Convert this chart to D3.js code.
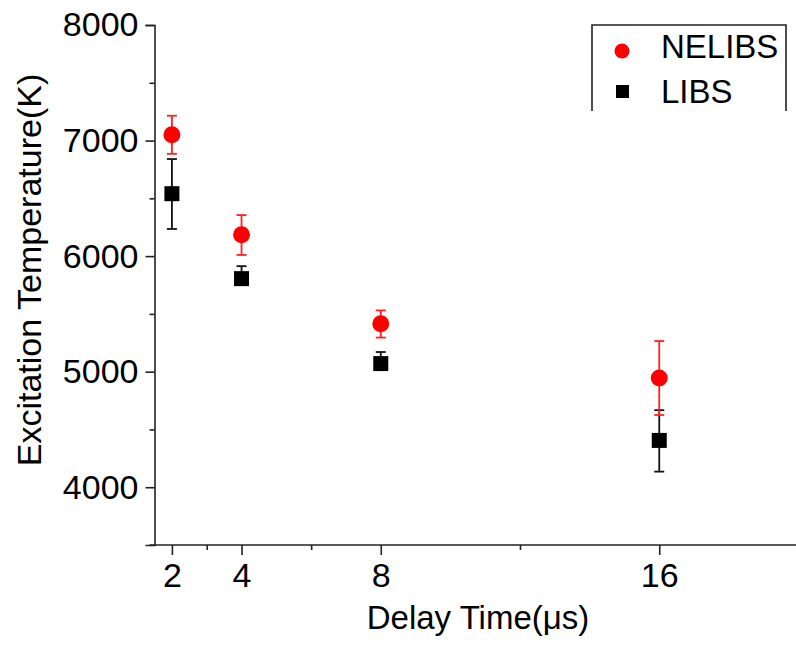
<!DOCTYPE html>
<html lang="en">
<head>
  <meta charset="UTF-8">
  <title>Excitation Temperature vs Delay Time</title>
  <script src="https://d3js.org/d3.v7.min.js"></script>
  <style>
    body { margin: 0; background: #fff; }
    svg { display: block; font-family: Arial, "Liberation Sans", sans-serif; }
  </style>
</head>
<body>
<svg id="chart" width="796" height="645"></svg>
<script>
  // Data
  const delays = [2, 4, 8, 16];
  const nelibs = [7050, 6185, 5415, 4945];
  const nelibsErrUp = [165, 170, 115, 320];
  const nelibsErrDown = [165, 175, 120, 320];
  const libs = [6540, 5805, 5070, 4405];
  const libsErrUp = [300, 108, 100, 262];
  const libsErrDown = [305, 50, 50, 270];

  const xMajor = [2, 4, 8, 16];
  const xMinor = [3, 6, 12];
  const yMajor = [4000, 5000, 6000, 7000, 8000];
  const yMinor = [4500, 5500, 6500, 7500];

  const svg = d3.select("#chart");
  const width = 796, height = 645;

  const x = d3.scaleLinear().domain([1.5, 20]).range([154.5, 798.5]);
  const y = d3.scaleLinear().domain([3500, 8000]).range([545, 25]);
  const x0 = x(1.5);

  const axisColor = "#222";

  // Y axis: major and minor ticks
  const yAxis = svg.append("g").attr("transform", `translate(${x0},0)`);
  yAxis.call(d3.axisLeft(y).tickValues(yMajor).tickSize(9).tickPadding(7).tickFormat(d3.format("d")));
  yAxis.append("g").call(d3.axisLeft(y).tickValues(yMinor).tickSize(5).tickFormat(""))
    .select(".domain").remove();

  // X axis
  const xAxis = svg.append("g").attr("transform", `translate(0,${y(3500)})`);
  xAxis.call(d3.axisBottom(x).tickValues(xMajor).tickSize(10).tickPadding(8).tickFormat(d3.format("d")));
  xAxis.append("g").call(d3.axisBottom(x).tickValues(xMinor).tickSize(5).tickFormat(""))
    .select(".domain").remove();
  xAxis.select(".domain").attr("d", `M${x0 - 5},0H${width}`);

  svg.selectAll(".domain, .tick line").attr("stroke", axisColor).attr("stroke-width", 1.6);
  svg.selectAll(".tick text").attr("font-size", 34).attr("fill", "#000")
    .attr("font-family", "Arial, 'Liberation Sans', sans-serif");

  // Axis titles
  svg.append("text")
    .attr("x", 478)
    .attr("y", 629)
    .attr("text-anchor", "middle")
    .attr("font-size", 33)
    .text("Delay Time(\u03bcs)");

  svg.append("text")
    .attr("transform", `translate(41,${y(5750) - 15}) rotate(-90)`)
    .attr("text-anchor", "middle")
    .attr("font-size", 34)
    .text("Excitation Temperature(K)");

  // Error bars
  function errorBars(vals, up, down, color) {
    const g = svg.append("g").attr("stroke", color).attr("stroke-width", 1.8);
    delays.forEach((d, i) => {
      const cx = x(d), top = y(vals[i] + up[i]), bot = y(vals[i] - down[i]);
      g.append("line").attr("x1", cx).attr("x2", cx).attr("y1", top).attr("y2", bot);
      g.append("line").attr("x1", cx - 5).attr("x2", cx + 5).attr("y1", top).attr("y2", top);
      g.append("line").attr("x1", cx - 5).attr("x2", cx + 5).attr("y1", bot).attr("y2", bot);
    });
  }
  errorBars(libs, libsErrUp, libsErrDown, "#111");
  errorBars(nelibs, nelibsErrUp, nelibsErrDown, "#ff2020");

  // Markers
  svg.selectAll(".libs").data(delays).enter().append("rect")
    .attr("x", (d, i) => x(d) - 7.5)
    .attr("y", (d, i) => y(libs[i]) - 7.5)
    .attr("width", 15).attr("height", 15)
    .attr("fill", "#000");

  svg.selectAll(".nelibs").data(delays).enter().append("circle")
    .attr("cx", d => x(d))
    .attr("cy", (d, i) => y(nelibs[i]))
    .attr("r", 8.5)
    .attr("fill", "#ff0000");

  // Legend (open-bottom box)
  const lg = svg.append("g");
  lg.append("path")
    .attr("d", "M592,111V25H786V111")
    .attr("fill", "none").attr("stroke", axisColor).attr("stroke-width", 1.6);
  lg.append("circle").attr("cx", 622).attr("cy", 51).attr("r", 7.5).attr("fill", "#ff0000");
  lg.append("text").attr("x", 661).attr("y", 58).attr("font-size", 33).text("NELIBS");
  lg.append("rect").attr("x", 616).attr("y", 85).attr("width", 13).attr("height", 13).attr("fill", "#000");
  lg.append("text").attr("x", 661).attr("y", 103).attr("font-size", 33).text("LIBS");
</script>
</body>
</html>
